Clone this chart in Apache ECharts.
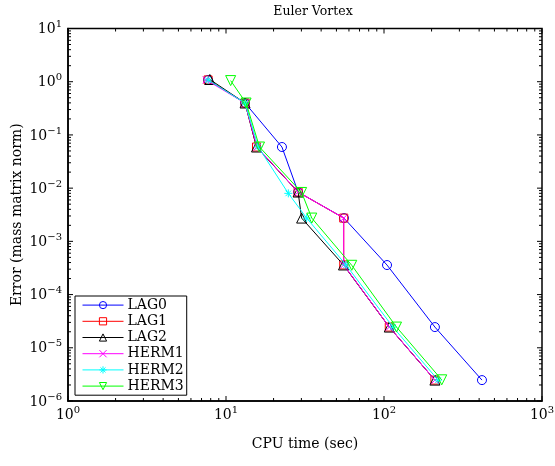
<!DOCTYPE html>
<html><head><meta charset="utf-8">
<script src="https://cdn.jsdelivr.net/npm/echarts@6/dist/echarts.min.js"></script>
<style>html,body{margin:0;padding:0;background:#fff}#c{width:555px;height:466px}</style>
</head><body><div id="c"></div>
<script>
var seriesNames = ['LAG0','LAG1','LAG2','HERM1','HERM2','HERM3'];
var LAG0_x = [7.7, 13.2, 22.6, 28.6, 55.8, 104.5, 210, 417];
var LAG0_y = [1.08, 0.398, 0.0593, 0.00845, 0.00274, 3.59e-4, 2.45e-5, 2.47e-6];
var LAG1_x = [7.7, 13.2, 15.6, 28.6, 55.6, 55.6, 108, 210];
var LAG1_y = [1.08, 0.398, 0.0593, 0.00845, 0.00274, 3.6e-4, 2.45e-5, 2.47e-6];
var LAG2_x = [7.9, 13.2, 15.6, 28.6, 30.1, 55.4, 108, 210];
var LAG2_y = [1.1, 0.398, 0.0593, 0.00845, 0.00274, 3.6e-4, 2.45e-5, 2.47e-6];
var HERM1_x = [7.5, 13.2, 15.7, 28.6, 55.6, 55.6, 108, 210];
var HERM1_y = [1.08, 0.398, 0.0593, 0.00845, 0.00274, 3.6e-4, 2.45e-5, 2.47e-6];
var HERM2_x = [7.7, 13.2, 16.0, 24.8, 32.4, 57.5, 114, 220];
var HERM2_y = [1.08, 0.398, 0.0593, 0.00798, 0.00274, 3.6e-4, 2.45e-5, 2.47e-6];
var HERM3_x = [10.7, 13.4, 16.3, 30.1, 34.9, 62.5, 120, 232];
var HERM3_y = [1.05, 0.398, 0.0593, 0.0083, 0.00274, 3.55e-4, 2.45e-5, 2.5e-6];
var xTickValues = [1, 10, 100, 1000];
var yTickValues = [1e-6, 1e-5, 1e-4, 1e-3, 1e-2, 1e-1, 1, 10];

var colors = ['#0000ff','#ff0000','#000000','#ff00ff','#00ffff','#00ff00'];
var symbols = ['circle','rect','triangle','path://M0,0L10,10M10,0L0,10',
  'path://M5,0L5,10M0,5L10,5M1.5,1.5L8.5,8.5M8.5,1.5L1.5,8.5','triangle'];
var sizes = [9, 8, 10, 7, 8, 10];
var rot = [0,0,0,0,0,180];
var xs = [LAG0_x, LAG1_x, LAG2_x, HERM1_x, HERM2_x, HERM3_x];
var ys = [LAG0_y, LAG1_y, LAG2_y, HERM1_y, HERM2_y, HERM3_y];

function pair(x, y){ return x.map(function(v,i){ return [v, y[i]]; }); }
var FONT = 'DejaVu Serif';
function fmt(v){
  var e = Math.round(Math.log10(v));
  var s = String(e).replace('-', '\u2212');
  return '{b|10}{s|' + s + '}';
}
var rich = {
  b: {fontFamily: FONT, fontSize: 14, color: '#000', verticalAlign: 'bottom', lineHeight: 16},
  s: {fontFamily: FONT, fontSize: 10, color: '#000', verticalAlign: 'bottom', lineHeight: 10, padding: [0,0,7,0]}
};

var tickData = [];
for (var d = 0; d < 3; d++) for (var k = 1; k <= 9; k++) tickData.push([k*Math.pow(10,d), 1e-6, k===1?2:0]);
tickData.push([1000, 1e-6, 2]);
for (var d2 = -6; d2 < 1; d2++) for (var k2 = 1; k2 <= 9; k2++) tickData.push([1, k2*Math.pow(10,d2), k2===1?3:1]);
tickData.push([1, 10, 3]);

var series = seriesNames.map(function(n, i){
  return {
    name: n, type: 'line', data: pair(xs[i], ys[i]),
    symbol: symbols[i], symbolSize: sizes[i], symbolRotate: rot[i],
    showAllSymbol: true, z: 3 + i,
    lineStyle: {color: colors[i], width: 1},
    itemStyle: {color: 'rgba(0,0,0,0)', borderColor: colors[i], borderWidth: 1},
    emphasis: {disabled: true}, animation: false
  };
});
series.push({
  type: 'custom', name: 'ticks', data: tickData, silent: true, z: 10, clip: false,
  animation: false,
  renderItem: function(params, api){
    var v0 = api.value(0), v1 = api.value(1), f = api.value(2);
    var L = (f >= 2) ? 5 : 3;
    var st = {stroke: '#000', lineWidth: 1};
    if (f === 0 || f === 2) {
      var b = api.coord([v0, 1e-6]), t = api.coord([v0, 10]);
      return {type: 'group', children: [
        {type: 'line', shape: {x1: b[0], y1: b[1], x2: b[0], y2: b[1]-L}, style: st},
        {type: 'line', shape: {x1: t[0], y1: t[1], x2: t[0], y2: t[1]+L}, style: st}
      ]};
    } else {
      var l = api.coord([1, v1]), r = api.coord([1000, v1]);
      return {type: 'group', children: [
        {type: 'line', shape: {x1: l[0], y1: l[1], x2: l[0]+L, y2: l[1]}, style: st},
        {type: 'line', shape: {x1: r[0], y1: r[1], x2: r[0]-L, y2: r[1]}, style: st}
      ]};
    }
  }
});

var chart = echarts.init(document.getElementById('c'), null, {renderer: 'canvas'});
chart.setOption({
  animation: false,
  backgroundColor: '#fff',
  title: {text: 'Euler Vortex', left: 308, textAlign: 'center', top: 0,
    textStyle: {fontFamily: FONT, fontSize: 12.5, fontWeight: 'normal', color: '#000'}},
  grid: {left: 68, right: 13, top: 28.5, bottom: 65, show: true, borderColor: '#000', borderWidth: 1.5,
    backgroundColor: 'transparent', containLabel: false, outerBoundsMode: 'none'},
  xAxis: {type: 'log', logBase: 10, min: 1, max: 1000,
    name: 'CPU time (sec)', nameLocation: 'middle', nameGap: 36, nameMoveOverlap: false,
    nameTextStyle: {fontFamily: FONT, fontSize: 14, color: '#000'},
    axisLine: {lineStyle: {color: '#000', width: 1.5}},
    axisTick: {show: false}, splitLine: {show: false},
    axisLabel: {formatter: fmt, rich: rich, margin: 5}
  },
  yAxis: {type: 'log', logBase: 10, min: 1e-6, max: 10,
    name: 'Error (mass matrix norm)', nameLocation: 'middle', nameGap: 44, nameMoveOverlap: false,
    nameTextStyle: {fontFamily: FONT, fontSize: 14, color: '#000'},
    axisLine: {lineStyle: {color: '#000', width: 1.5}},
    axisTick: {show: false}, splitLine: {show: false},
    axisLabel: {formatter: fmt, rich: rich, margin: 6}
  },
  legend: {data: seriesNames, orient: 'vertical', left: 75, top: 296,
    itemWidth: 41, itemHeight: 9, itemGap: 2,
    padding: [2, 3, 2, 7], borderColor: '#000', borderWidth: 1, backgroundColor: '#fff',
    lineStyle: {width: 1}, itemStyle: {borderWidth: 1},
    textStyle: {fontFamily: FONT, fontSize: 14, lineHeight: 14.2, color: '#000', padding: [0,0,0,-1]},
    selectedMode: false},
  series: series
});
</script></body></html>
